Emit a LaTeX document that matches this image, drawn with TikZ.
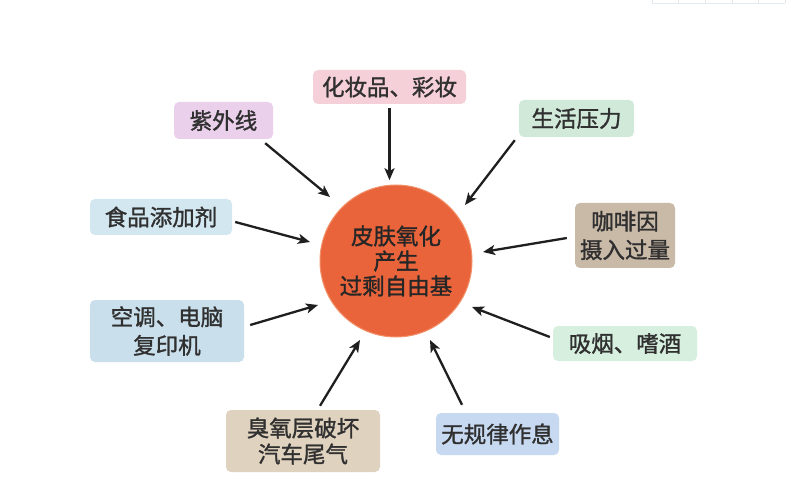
\documentclass[tikz,border=0pt]{standalone}
\usepackage{fontspec}
\setmainfont[FakeBold=1.3]{Noto Sans CJK SC}
\usetikzlibrary{arrows.meta,calc}
\definecolor{txt}{HTML}{303030}
\definecolor{cpink}{HTML}{F6D0D8}
\definecolor{clav}{HTML}{EBD0EC}
\definecolor{cmint}{HTML}{D0E9D9}
\definecolor{cblue}{HTML}{D3E7F1}
\definecolor{ctan}{HTML}{C9B9A7}
\definecolor{cblue2}{HTML}{CADFEC}
\definecolor{cmint2}{HTML}{D6EFDE}
\definecolor{cbeige}{HTML}{DFD3C0}
\definecolor{cblue3}{HTML}{C6D9F0}
\definecolor{corange}{HTML}{E9643B}
\definecolor{crim}{HTML}{F3926A}
\definecolor{cgrid}{HTML}{E2EAF0}
\tikzset{
  x=1pt,y=-1pt,
  cause/.style={rectangle,rounded corners=5pt,inner sep=0pt,text=txt,
    font=\fontsize{22.5}{28.5}\selectfont,align=center},
  arr/.style={-{Stealth[length=12pt,width=10pt,inset=3pt]},line width=2.3pt,draw=black!88},
  core/.style={circle,fill=corange,draw=crim,line width=1pt,minimum size=152pt,inner sep=0pt,
    text=black!85,font=\fontsize{22.5}{25}\selectfont,align=center}
}
\begin{document}
\begin{tikzpicture}
\useasboundingbox (0,0) rectangle (800,494);
\fill[white] (0,0) rectangle (800,494);
% faint fragment at top right
\draw[cgrid,line width=0.8pt] (652,3) -- (785,3);
\foreach \gx in {652,678,705,732,758,785} \draw[cgrid,line width=0.8pt] (\gx,0) -- (\gx,3);

\node[core] (c) at (396,261) {皮肤氧化\\产生\\过剩自由基};

\node[cause,fill=cpink,minimum width=153pt,minimum height=34pt] (b1) at (389.5,87) {化妆品、彩妆};
\node[cause,fill=clav,minimum width=99pt,minimum height=37pt] (b2) at (223.5,120.5) {紫外线};
\node[cause,fill=cmint,minimum width=115pt,minimum height=37pt] (b3) at (576.5,118.5) {生活压力};
\node[cause,fill=cblue,minimum width=142pt,minimum height=36pt] (b4) at (161,217) {食品添加剂};
\node[cause,fill=ctan,minimum width=100pt,minimum height=65pt] (b5) at (625,235.5) {咖啡因\\摄入过量};
\node[cause,fill=cblue2,minimum width=154pt,minimum height=62pt] (b6) at (167,331) {空调、电脑\\复印机};
\node[cause,fill=cmint2,minimum width=144pt,minimum height=35pt] (b7) at (625,343.5) {吸烟、嗜酒};
\node[cause,fill=cbeige,minimum width=154pt,minimum height=62pt,font=\fontsize{22.5}{26}\selectfont] (b8) at (303,441) {臭氧层破坏\\汽车尾气};
\node[cause,fill=cblue3,minimum width=123pt,minimum height=42pt] (b9) at (497.5,434) {无规律作息};

\draw[arr] ($(b1.south)+(0,4)$) -- ($(b1.south)+(0,76)$);
\draw[arr] ($(b2.south east)+(-8,4)$) -- ($(c.center)+(-66,-64)$);
\draw[arr] ($(b3.south west)+(-4,3)$) -- ($(c.center)+(69,-56)$);
\draw[arr] ($(b4.east)+(3,5)$) -- ($(c.center)+(-86,-19)$);
\draw[arr] ($(b5.west)+(-8,2.5)$) -- ($(c.center)+(87,-9)$);
\draw[arr] ($(b6.east)+(6,-6)$) -- ($(c.center)+(-78,44)$);
\draw[arr] ($(b7.west)+(-3,-6.5)$) -- ($(c.center)+(76,46)$);
\draw[arr] ($(b8.north)+(17,-4)$) -- ($(c.center)+(-36,79)$);
\draw[arr] ($(b9.north)+(-35.5,-8)$) -- ($(c.center)+(34,79)$);
\end{tikzpicture}
\end{document}
